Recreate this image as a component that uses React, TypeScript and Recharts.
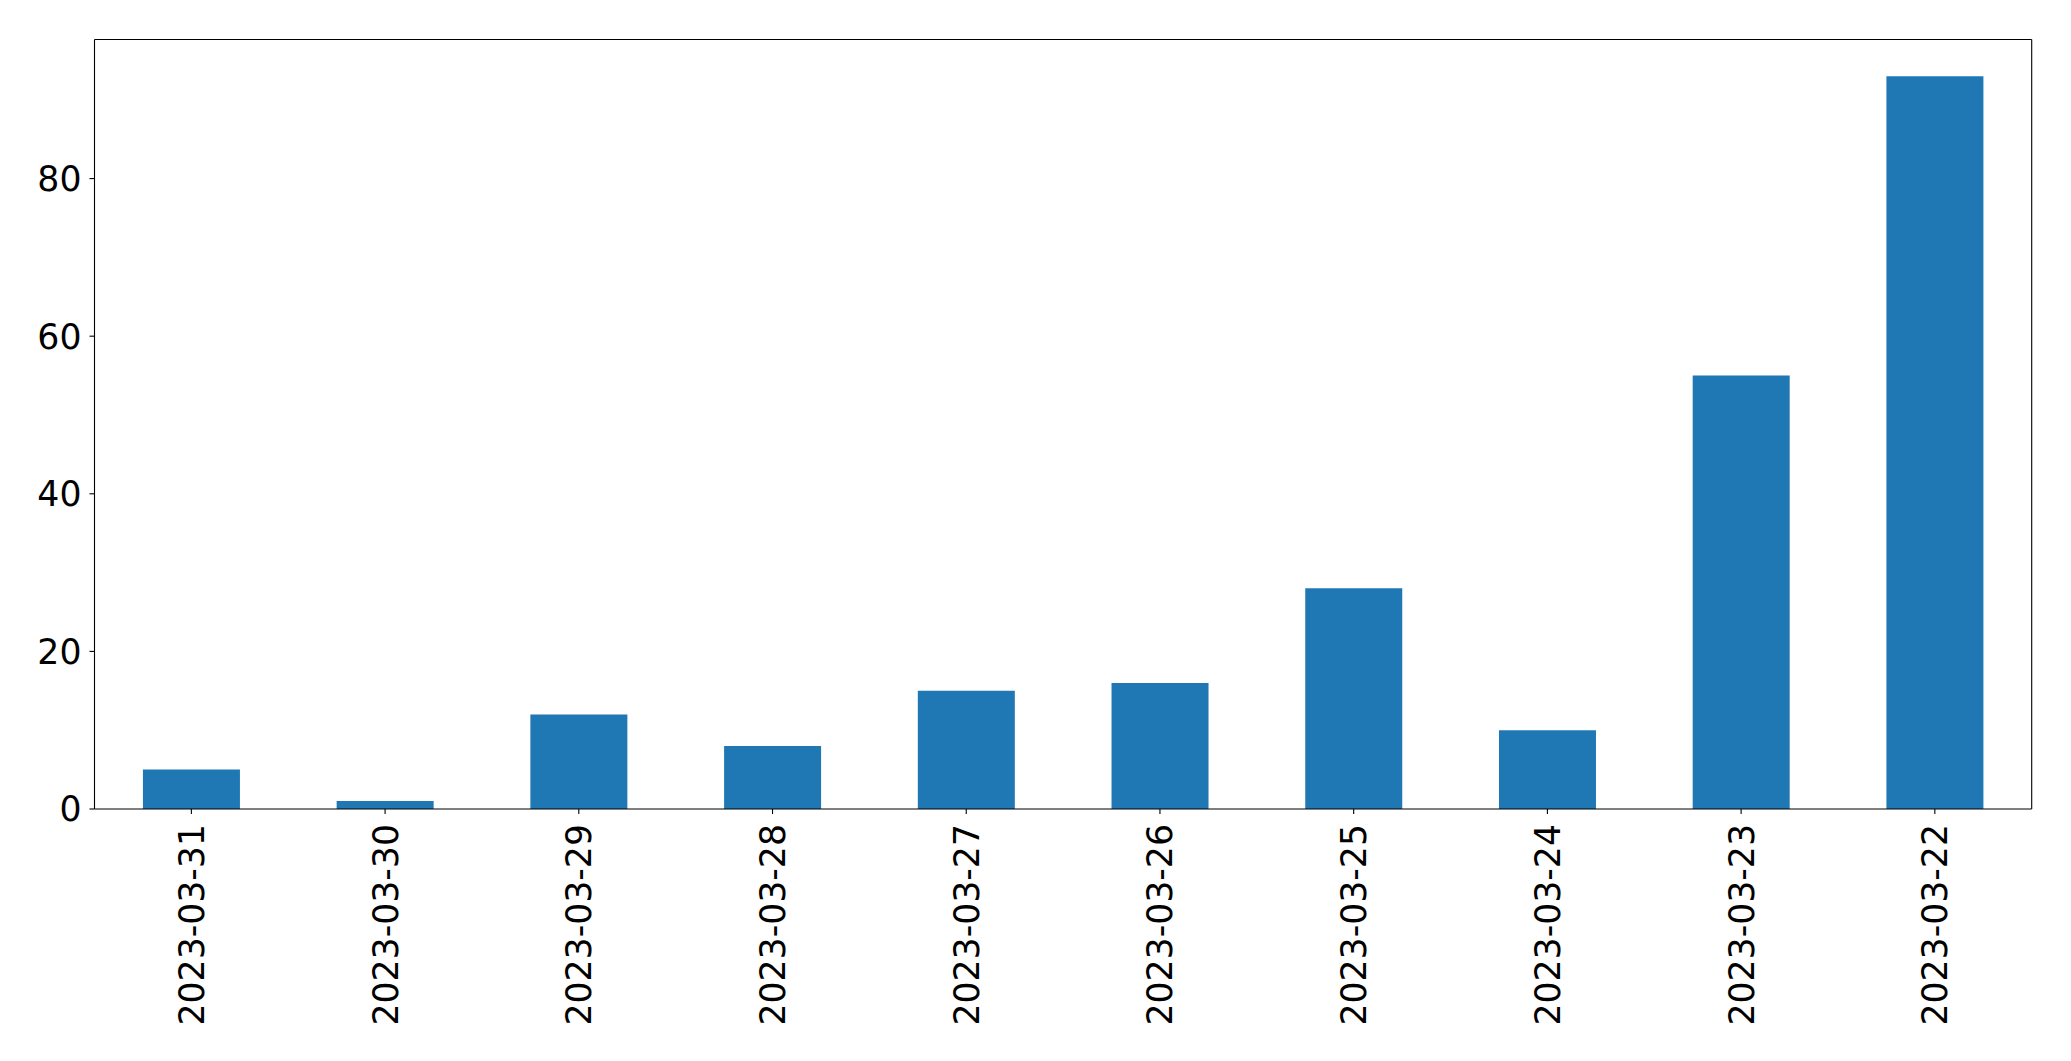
import { BarChart, Bar, XAxis, YAxis } from "recharts";

const dates = [
  "2023-03-31",
  "2023-03-30",
  "2023-03-29",
  "2023-03-28",
  "2023-03-27",
  "2023-03-26",
  "2023-03-25",
  "2023-03-24",
  "2023-03-23",
  "2023-03-22",
];
const counts = [5, 1, 12, 8, 15, 16, 28, 10, 55, 93];
const yTicks = [0, 20, 40, 60, 80];

const data = dates.map((date, i) => ({ date, count: counts[i] }));

const FONT = "'DejaVu Sans', sans-serif";
const FONT_SIZE = 34.7;

// rotated date label, text runs upward from just under the axis
const DateTick = (props: any) => {
  const { x, y, payload } = props;
  return (
    <text
      x={x}
      y={y}
      dy="0.36em"
      textAnchor="end"
      transform={`rotate(-90, ${x}, ${y})`}
      fontFamily={FONT}
      fontSize={FONT_SIZE}
      fill="#000"
    >
      {payload.value}
    </text>
  );
};

const frame = { stroke: "#000", strokeWidth: 1.1 };

const App = () => {
  return (
    <div style={{ position: "absolute", left: 0, top: 0, background: "#fff" }}>
      <BarChart
        width={2071}
        height={1061}
        data={data}
        margin={{ top: 38.5, right: 38.3, left: 0, bottom: 0 }}
        barCategoryGap="25%"
      >
        <XAxis
          dataKey="date"
          interval={0}
          height={252}
          tickSize={5}
          tickMargin={10}
          tick={<DateTick />}
          axisLine={frame}
          tickLine={frame}
        />
        <XAxis
          xAxisId="top"
          orientation="top"
          dataKey="date"
          height={1}
          tick={false}
          tickLine={false}
          axisLine={frame}
        />
        <YAxis
          width={94.5}
          domain={[0, 97.65]}
          ticks={yTicks}
          tickSize={5}
          tickMargin={8}
          axisLine={frame}
          tickLine={frame}
          tick={{ fill: "#000", fontSize: FONT_SIZE, fontFamily: FONT }}
        />
        <YAxis
          yAxisId="right"
          orientation="right"
          width={1}
          domain={[0, 97.65]}
          tick={false}
          tickLine={false}
          axisLine={frame}
        />
        <Bar dataKey="count" fill="#1f77b4" isAnimationActive={false} />
      </BarChart>
    </div>
  );
};

export default App;
